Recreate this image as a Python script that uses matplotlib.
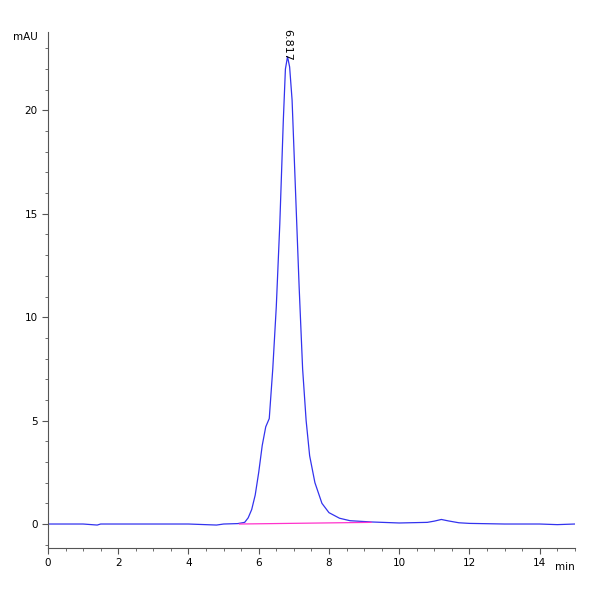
import matplotlib
matplotlib.use("Agg")
import matplotlib.pyplot as plt
from matplotlib.ticker import MultipleLocator

# chromatogram trace (min, mAU)
time_min = [0.0, 1.0, 1.4, 1.5, 2.0, 3.0, 4.0, 4.8, 5.0, 5.4, 5.6, 5.7, 5.8, 5.9, 6.0, 6.1,
            6.2, 6.3, 6.4, 6.5, 6.6, 6.7, 6.76, 6.82, 6.88, 6.95, 7.05, 7.15, 7.25, 7.35,
            7.45, 7.6, 7.8, 8.0, 8.3, 8.6, 9.2, 10.0, 10.8, 11.0, 11.2, 11.4, 11.7, 12.0,
            13.0, 14.0, 14.5, 15.0]
signal = [0.0, 0.0, -0.05, 0.0, 0.0, 0.0, 0.0, -0.05, 0.0, 0.02, 0.08, 0.3, 0.7, 1.4, 2.5, 3.8,
          4.7, 5.1, 7.5, 10.5, 14.5, 19.5, 22.0, 22.6, 22.1, 20.5, 16.0, 11.5, 7.5, 5.0,
          3.3, 2.0, 1.0, 0.55, 0.28, 0.16, 0.1, 0.05, 0.08, 0.14, 0.22, 0.15, 0.06, 0.03,
          0.0, 0.0, -0.03, 0.0]
baseline_t = [5.45, 9.2]
baseline_y = [0.0, 0.08]
peak_rt = 6.817
peak_label = "6.817"

fig, ax = plt.subplots(figsize=(6, 6), dpi=100)
fig.subplots_adjust(left=0.08, right=0.958, bottom=0.087, top=0.947)

ax.plot(time_min, signal, color="#3333ee", lw=0.9)
ax.plot(baseline_t, baseline_y, color="#ff33cc", lw=0.9)
ax.text(peak_rt, 22.4, peak_label, rotation=-90, ha="center", va="bottom", fontsize=8)

ax.set_xlim(0, 15)
ax.set_ylim(-1.15, 23.8)
ax.xaxis.set_major_locator(MultipleLocator(2))
ax.xaxis.set_minor_locator(MultipleLocator(0.5))
ax.yaxis.set_major_locator(MultipleLocator(5))
ax.yaxis.set_minor_locator(MultipleLocator(1))
ax.tick_params(labelsize=7.5, direction="out", length=4, color="#555555")
ax.tick_params(which="minor", length=2, color="#555555")
for side in ("top", "right"):
    ax.spines[side].set_visible(False)
for side in ("left", "bottom"):
    ax.spines[side].set_color("#555555")

ax.text(-0.02, 1.0, "mAU", transform=ax.transAxes, ha="right", va="top", fontsize=7.5)
ax.text(1.0, -0.028, "min", transform=ax.transAxes, ha="right", va="top", fontsize=7.5)

fig.savefig("out.png")
